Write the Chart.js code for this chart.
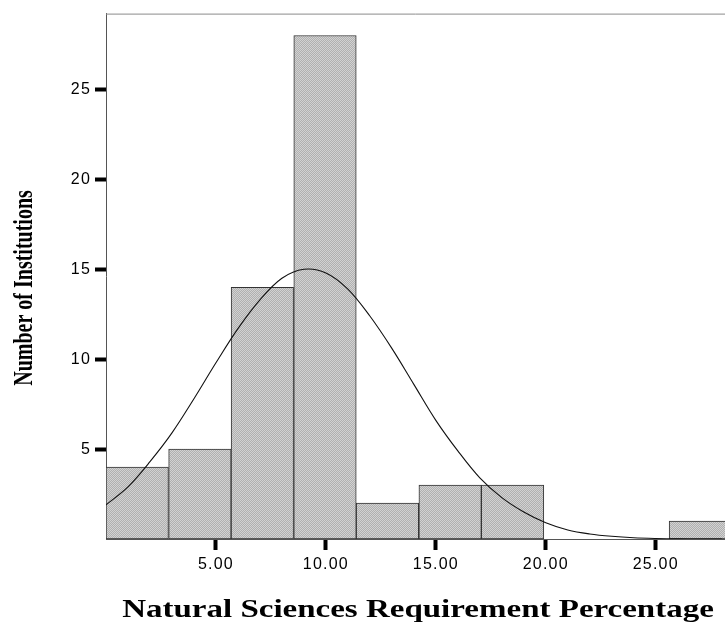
<!DOCTYPE html>
<html>
<head>
<meta charset="utf-8">
<script src="https://cdn.jsdelivr.net/npm/chart.js@4/dist/chart.umd.min.js"></script>
<style>
  body { margin: 0; background: #fff; }
  canvas { display: block; }
</style>
</head>
<body>
<canvas id="grafico" width="725" height="623"></canvas>
<script>
// histogram bins (centre of each bin) and counts
const binCenters = [1.42, 4.27, 7.11, 9.96, 12.80, 15.65, 18.49, 21.34, 24.18, 27.03]
const counts = [4, 5, 14, 28, 2, 3, 3, 0, 0, 1]

// normal curve, read at each whole percent
const curveX = [0, 1, 2, 3, 4, 5, 6, 7, 8, 9, 10, 11, 12, 13, 14, 15, 16, 17, 18, 19, 20, 21, 22, 23, 24, 25, 26, 27, 28]
const curveY = [1.9, 2.9, 4.3, 5.9, 7.8, 9.8, 11.7, 13.3, 14.5, 15.0, 14.8, 13.9, 12.4, 10.6, 8.6, 6.6, 4.9, 3.4, 2.3, 1.5, 0.9, 0.5, 0.28, 0.15, 0.07, 0.03, 0.01, 0, 0]

const xTicks = [5, 10, 15, 20, 25]
const yTicks = [5, 10, 15, 20, 25]

const xTitle = 'Natural Sciences Requirement Percentage'
const yTitle = 'Number of Institutions'

const canvas = document.getElementById('grafico')
const ctx = canvas.getContext('2d')

// dithered grey fill like the old SPSS bars
const pc = document.createElement('canvas')
pc.width = 2
pc.height = 2
const p = pc.getContext('2d')
p.fillStyle = '#b0b0b0'
p.fillRect(0, 0, 2, 2)
p.fillStyle = '#d2d2d2'
p.fillRect(0, 0, 1, 1)
p.fillRect(1, 1, 1, 1)
const barFill = ctx.createPattern(pc, 'repeat')

const frameAndTitles = {
  id: 'frameAndTitles',
  beforeDraw(chart) {
    chart.ctx.letterSpacing = '1.2px'
  },
  afterDraw(chart) {
    const c = chart.ctx
    const a = chart.chartArea
    c.save()
    c.letterSpacing = '0px'
    c.strokeStyle = '#8a8a8a'
    c.lineWidth = 1
    c.beginPath()
    c.moveTo(a.left, a.top + 0.5)
    c.lineTo(a.right, a.top + 0.5)
    c.stroke()

    c.fillStyle = '#000'
    c.font = 'bold 25px "Liberation Serif"'
    c.textAlign = 'center'
    c.textBaseline = 'alphabetic'
    c.save()
    c.translate(418, 617)
    c.scale(1.32, 1)
    c.fillText(xTitle, 0, 0)
    c.restore()

    c.font = 'bold 20px "Liberation Serif"'
    c.save()
    c.translate(32, 288)
    c.rotate(-Math.PI / 2)
    c.scale(1, 1.35)
    c.fillText(yTitle, 0, 0)
    c.restore()
    c.restore()
  }
}

const chart = new Chart(ctx, {
  type: 'bar',
  data: {
    datasets: [
      {
        type: 'line',
        data: curveX.map((x, i) => ({ x: x, y: curveY[i] })),
        borderColor: '#111',
        borderWidth: 1.1,
        pointRadius: 0,
        fill: false,
        tension: 0.35,
        order: 0
      },
      {
        type: 'bar',
        data: binCenters.map((x, i) => ({ x: x, y: counts[i] })),
        backgroundColor: barFill,
        borderColor: '#333',
        borderWidth: 1,
        borderSkipped: false,
        barPercentage: 1,
        categoryPercentage: 1,
        order: 1
      }
    ]
  },
  options: {
    responsive: false,
    devicePixelRatio: 1,
    animation: false,
    layout: { padding: { top: 11, right: 0, left: 0, bottom: 0 } },
    plugins: {
      legend: { display: false },
      tooltip: { enabled: false }
    },
    scales: {
      x: {
        type: 'linear',
        min: 0,
        max: 28.15,
        offset: false,
        afterBuildTicks(scale) { scale.ticks = xTicks.map(v => ({ value: v })) },
        afterFit(scale) { scale.height = 84 },
        grid: {
          offset: false,
          drawOnChartArea: false,
          drawTicks: true,
          tickLength: 11,
          tickWidth: 4,
          tickColor: '#000'
        },
        border: { display: true, color: '#555', width: 1 },
        ticks: {
          autoSkip: false,
          maxRotation: 0,
          padding: 5,
          color: '#000',
          font: { family: '"Liberation Sans", Arial', size: 16 },
          callback: v => v.toFixed(2)
        }
      },
      y: {
        type: 'linear',
        min: 0,
        max: 29.22,
        afterBuildTicks(scale) { scale.ticks = yTicks.map(v => ({ value: v })) },
        afterFit(scale) { scale.width = 106 },
        grid: {
          drawOnChartArea: false,
          drawTicks: true,
          tickLength: 11,
          tickWidth: 4,
          tickColor: '#000'
        },
        border: { display: true, color: '#555', width: 1 },
        ticks: {
          padding: 4,
          color: '#000',
          font: { family: '"Liberation Sans", Arial', size: 16 }
        }
      }
    }
  },
  plugins: [frameAndTitles]
})
</script>
</body>
</html>
